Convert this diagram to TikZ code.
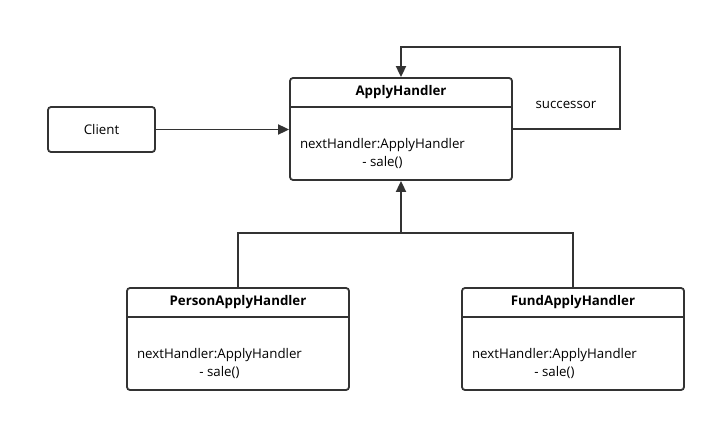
\documentclass[tikz,border=0pt]{standalone}
\usepackage{fontspec}
\setmainfont{Open Sans}
\usetikzlibrary{arrows.meta,calc}

\begin{document}
\begin{tikzpicture}[x=1pt,y=-1pt,line width=1.8pt,
  font=\fontsize{13.3}{18}\selectfont]
\tikzstyle{cls}=[draw=black!80, rounded corners=3pt, fill=white,
                 minimum width=222pt, minimum height=102pt, inner sep=0pt]
\tikzstyle{arr}=[-{Triangle[length=11pt,width=10pt]}]
\useasboundingbox[fill=white] (0,0) rectangle (716,423);
% boxes
\node[cls, minimum width=107pt, minimum height=45pt] (client) at (101.5,129.5){Client};
\node[cls] (apply) at (401,129){};
\node[cls] (person) at (238,339){};
\node[cls] (fund) at (573,339){};
% header lines and texts
\foreach \c/\t in {apply/ApplyHandler,person/PersonApplyHandler,fund/FundApplyHandler}{
	\draw[black!80] ($(\c.north west)+(0,30)$) -- ($(\c.north east)+(0,30)$);
	\node[font=\fontsize{13.3}{18}\selectfont\bfseries] (\c-title) at ($(\c.north)+(0,15)$){\t};
	\node[anchor=west, align=center, inner sep=0pt] (\c-body) at ($(\c.west)+(10,24)$)
		{nextHandler:ApplyHandler\\- sale()};
	}
\node (succ) at (566,105){successor};
\coordinate (loop) at (620,47);
\coordinate (joint) at (401,233);
% connectors
\draw[arr, black!80] (client.east) -- (client.east -| apply.west);
\draw[arr, black!80] (apply.east) -| (loop) -| (apply.north);
\draw[black!80] (person.north) |- (joint) -| (fund.north);
\draw[arr, black!80] (joint) -- (apply.south);
\end{tikzpicture}
\end{document}
